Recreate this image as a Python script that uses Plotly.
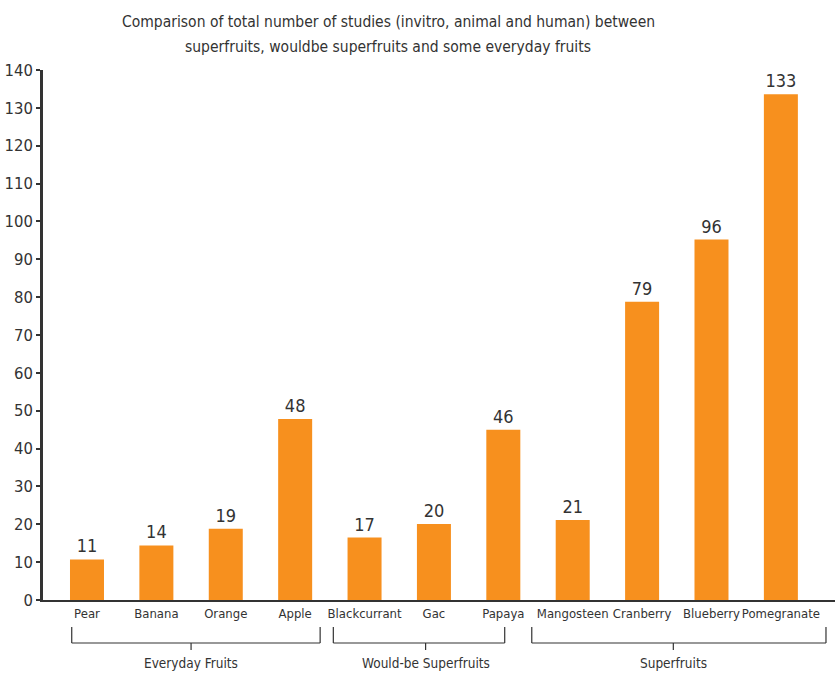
import plotly.graph_objects as go

categories = ["Pear", "Banana", "Orange", "Apple", "Blackcurrant", "Gac", "Papaya",
              "Mangosteen", "Cranberry", "Blueberry", "Pomegranate"]
bar_heights = [10.7, 14.4, 18.8, 47.8, 16.5, 20.1, 45.0, 21.1, 78.8, 95.2, 133.6]
bar_labels = ["11", "14", "19", "48", "17", "20", "46", "21", "79", "96", "133"]
y_ticks = list(range(0, 141, 10))
groups = ["Everyday Fruits", "Would-be Superfruits", "Superfruits"]
group_spans = [(-0.22, 3.36), (3.55, 6.02), (6.41, 10.65)]
group_centers = [1.5, 4.88, 8.45]
title_lines = ["Comparison of total number of studies (invitro, animal and human) between",
               "superfruits, wouldbe superfruits and some everyday fruits"]

FONT = "DejaVu Sans Condensed"
TXT = "#333333"
x_pos = list(range(len(categories)))

fig = go.Figure()
fig.add_trace(go.Bar(
    x=x_pos, y=bar_heights, width=0.49,
    marker=dict(color="#F7901E", line=dict(width=0)),
    text=bar_labels, textposition="outside", cliponaxis=False,
    textfont=dict(family=FONT, size=18, color=TXT),
))

def py(p):
    return (600 - p) / 530.0

shapes = []
for (a, b), c in zip(group_spans, group_centers):
    for seg in [(a, a, 627, 643), (b, b, 627, 643), (a, b, 643, 643), (c, c, 643, 650)]:
        shapes.append(dict(type="line", xref="x", yref="paper", x0=seg[0], x1=seg[1],
                           y0=py(seg[2]), y1=py(seg[3]), line=dict(color=TXT, width=1.2)))

annotations = []
for g, c in zip(groups, group_centers):
    annotations.append(dict(text=g, x=c, xref="x", y=py(663), yref="paper", showarrow=False,
                            font=dict(family=FONT, size=13.5, color=TXT), xanchor="center", yanchor="middle"))
for line, ypx in zip(title_lines, [22, 47]):
    annotations.append(dict(text=line, x=(388 - 43) / 792.0, xref="paper", y=py(ypx), yref="paper",
                            showarrow=False, font=dict(family=FONT, size=15.5, color=TXT),
                            xanchor="center", yanchor="middle"))

fig.update_layout(
    width=835, height=673,
    margin=dict(l=43, r=0, t=70, b=73),
    paper_bgcolor="white", plot_bgcolor="white",
    showlegend=False,
    shapes=shapes, annotations=annotations,
    xaxis=dict(range=[-0.634, 10.78], tickvals=x_pos, ticktext=categories, tickangle=0,
               showline=True, linecolor=TXT, linewidth=2, ticks="", showgrid=False, zeroline=False,
               tickfont=dict(family=FONT, size=13, color=TXT), fixedrange=True),
    yaxis=dict(range=[0, 140], tickvals=y_ticks, showline=True, linecolor=TXT, linewidth=2.5,
               ticks="outside", ticklen=4, tickwidth=2, tickcolor=TXT, showgrid=False, zeroline=False,
               tickfont=dict(family=FONT, size=16.5, color=TXT)),
)

fig.write_html("out.html")
